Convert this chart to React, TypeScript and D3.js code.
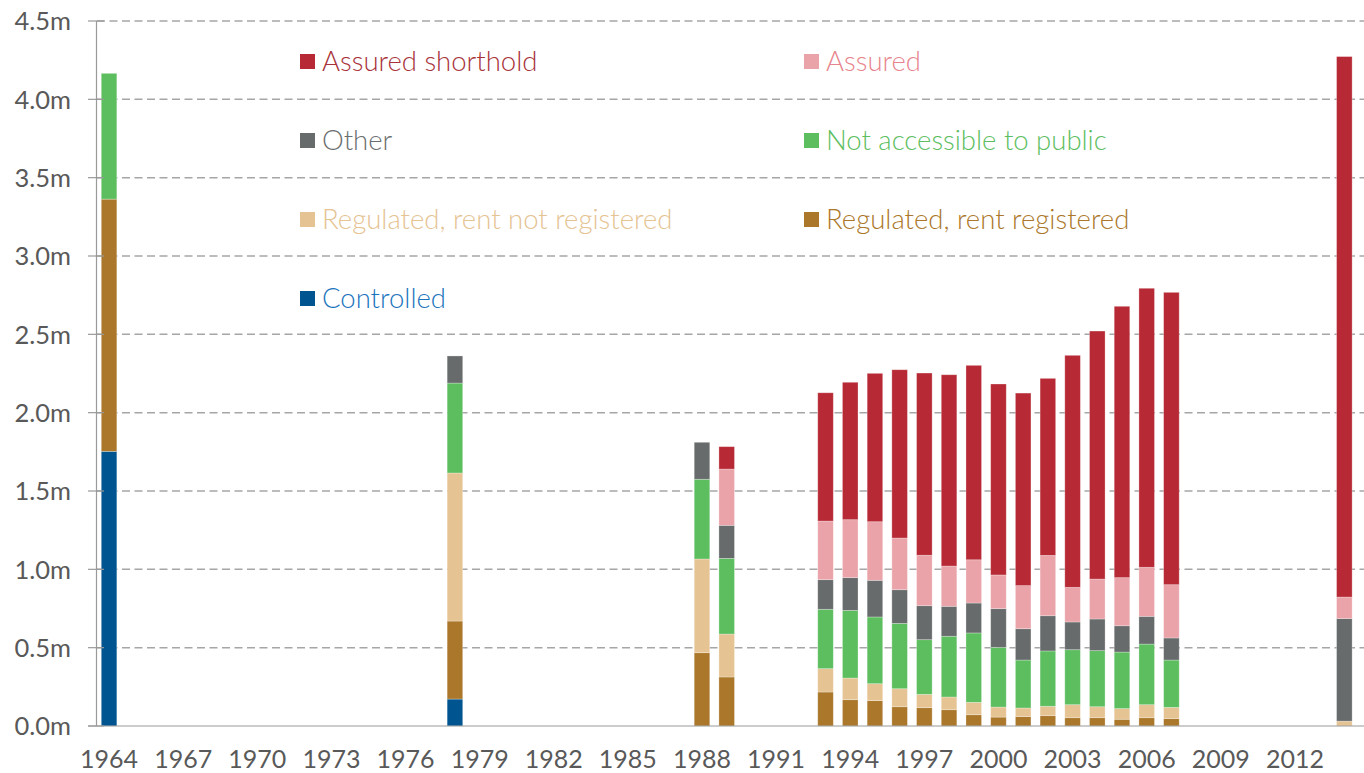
import React from 'react';
import { scaleBand, scaleLinear, stack, range } from 'd3';

// years shown on the axis (one band per year)
const years = range(1964, 2015).map(String);
const tickYears = range(1964, 2013, 3).map(String);
const yTicks = [0, 0.5, 1, 1.5, 2, 2.5, 3, 3.5, 4, 4.5];

const barYears = ['1964', '1978', '1988', '1989', '1993', '1994', '1995', '1996', '1997', '1998', '1999', '2000', '2001', '2002', '2003', '2004', '2005', '2006', '2007', '2014'];

// values in millions
const controlled =       [1.753, 0.172, 0, 0, 0, 0, 0, 0, 0, 0, 0, 0, 0, 0, 0, 0, 0, 0, 0, 0];
const regRegistered =    [1.610, 0.498, 0.468, 0.313, 0.217, 0.168, 0.162, 0.123, 0.117, 0.104, 0.072, 0.057, 0.060, 0.066, 0.053, 0.053, 0.043, 0.053, 0.047, 0];
const regNotRegistered = [0, 0.945, 0.598, 0.274, 0.149, 0.138, 0.108, 0.115, 0.085, 0.081, 0.079, 0.064, 0.055, 0.060, 0.083, 0.070, 0.068, 0.083, 0.072, 0.031];
const notAccessible =    [0.803, 0.574, 0.509, 0.483, 0.379, 0.432, 0.426, 0.417, 0.349, 0.388, 0.443, 0.381, 0.306, 0.353, 0.351, 0.358, 0.361, 0.387, 0.302, 0];
const other =            [0, 0.173, 0.236, 0.211, 0.189, 0.209, 0.234, 0.215, 0.217, 0.191, 0.191, 0.247, 0.200, 0.225, 0.177, 0.202, 0.168, 0.177, 0.141, 0.655];
const assured =          [0, 0, 0, 0.359, 0.374, 0.370, 0.374, 0.330, 0.322, 0.257, 0.276, 0.215, 0.275, 0.385, 0.221, 0.255, 0.307, 0.313, 0.340, 0.137];
const shorthold =        [0, 0, 0, 0.143, 0.819, 0.877, 0.947, 1.074, 1.163, 1.221, 1.241, 1.219, 1.229, 1.130, 1.481, 1.583, 1.732, 1.781, 1.866, 3.45];

const seriesNames = ['Controlled', 'Regulated, rent registered', 'Regulated, rent not registered', 'Not accessible to public', 'Other', 'Assured', 'Assured shorthold'];
const seriesValues = [controlled, regRegistered, regNotRegistered, notAccessible, other, assured, shorthold];
const fills = ['#00548f', '#ab772a', '#e5c392', '#5dbe5f', '#686b6b', '#eaa3a9', '#b72a35'];
const textColors = ['#1a74bd', '#ab772a', '#e5c392', '#5dbe5f', '#6b6e6e', '#e8848d', '#a8323a'];

// legend order: rows of two
const legendOrder = [6, 5, 4, 3, 2, 1, 0];

const W = 1364;
const H = 773;
const FONT = 'Lato, "Open Sans", sans-serif';

const App: React.FC = () => {
  const x = scaleBand<string>()
    .domain(years)
    .range([96.7, 1356.7])
    .paddingInner(0.37)
    .paddingOuter(0.185);
  const y = scaleLinear().domain([0, 4.5]).range([726, 21]);

  const table = barYears.map((yr, i) => {
    const row: any = { year: yr };
    seriesNames.forEach((n, k) => (row[n] = seriesValues[k][i]));
    return row;
  });
  const layers = stack<any>().keys(seriesNames)(table);

  return (
    <div style={{ position: 'absolute', left: 0, top: 0 }}>
      <svg width={W} height={H} style={{ display: 'block', background: '#fff' }}>
        {/* grid */}
        {yTicks.filter(t => t > 0).map(t => (
          <line key={t} x1={97} x2={W} y1={y(t)} y2={y(t)} stroke="#a6a6a6" strokeWidth={1.5} strokeDasharray="8,4.5" />
        ))}
        {/* bars */}
        {layers.map((layer, k) => (
          <g key={layer.key} fill={fills[k]}>
            {layer.map((d, i) => {
              const h = y(d[0]) - y(d[1]);
              if (h <= 0) return null;
              return (
                <rect key={i} x={x(d.data.year)} y={y(d[1])} width={x.bandwidth()} height={h}
                  stroke="#ffffff" strokeOpacity={0.35} strokeWidth={0.8} />
              );
            })}
          </g>
        ))}
        {/* axes */}
        <line x1={96.5} x2={96.5} y1={y(4.5)} y2={y(0)} stroke="#9a9a9a" strokeWidth={1.2} />
        <line x1={88} x2={W} y1={y(0)} y2={y(0)} stroke="#9a9a9a" strokeWidth={1.2} />
        {yTicks.map(t => (
          <g key={t}>
            <line x1={88} x2={104} y1={y(t)} y2={y(t)} stroke="#9a9a9a" strokeWidth={1.2} />
            <text x={71} y={y(t)} dy="0.36em" textAnchor="end" fontFamily={FONT} fontSize={25.5} fill="#595959">
              {t.toFixed(1)}m
            </text>
          </g>
        ))}
        {tickYears.map(yr => (
          <text key={yr} x={(x(yr) as number) + x.bandwidth() / 2} y={768} textAnchor="middle" fontFamily={FONT} fontSize={25} fill="#595959">
            {yr}
          </text>
        ))}
        {/* legend */}
        {legendOrder.map((k, i) => {
          const lx = i % 2 === 0 ? 300 : 804;
          const ly = 61.5 + Math.floor(i / 2) * 79;
          return (
            <g key={k}>
              <rect x={lx} y={ly - 7.5} width={15} height={15} fill={fills[k]} />
              <text x={lx + 22} y={ly} dy="0.36em" fontFamily={FONT} fontWeight={300} fontSize={27.5} fill={textColors[k]}>
                {seriesNames[k]}
              </text>
            </g>
          );
        })}
      </svg>
    </div>
  );
};

export default App;
